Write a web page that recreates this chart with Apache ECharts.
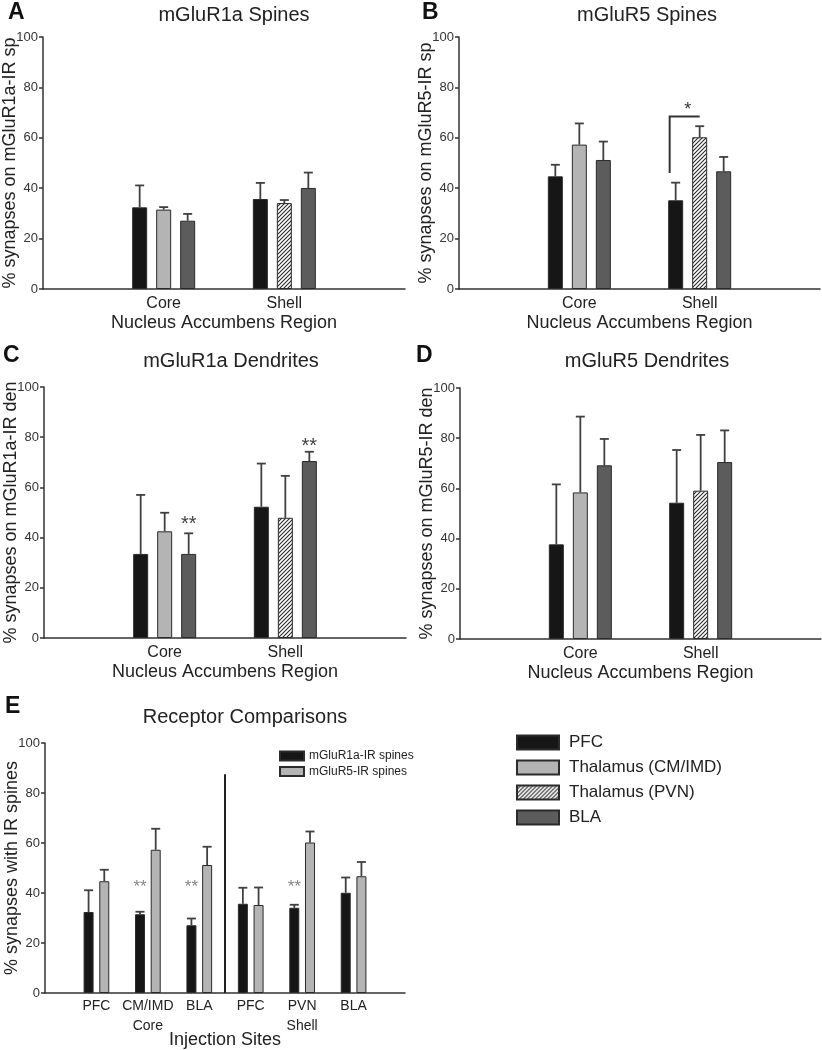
<!DOCTYPE html>
<html><head><meta charset="utf-8">
<script src="https://cdn.jsdelivr.net/npm/echarts@6/dist/echarts.min.js"></script>
<style>html,body{margin:0;padding:0;background:#fff}#c{width:822px;height:1050px}</style>
</head><body><div id="c"></div>
<script>
// ---------- DATA ----------
const regionCats = ['', 'Core', 'Shell', ''];
const groupNames = ['PFC', 'Thalamus (CM/IMD)', 'Thalamus (PVN)', 'BLA'];
// values per region [Core, Shell]; "Thal" = CM/IMD in Core, PVN in Shell
// A: mGluR1a Spines
const aPFC = [32.4, 35.7], aPFCErr = [8.7, 6.4];
const aThal = [31.5, 34.1], aThalErr = [1.0, 1.2];
const aBLA = [27.1, 40.1], aBLAErr = [2.7, 6.1];
// B: mGluR5 Spines
const bPFC = [44.7, 35.2], bPFCErr = [4.6, 7.0];
const bThal = [57.3, 60.2], bThalErr = [8.4, 4.4];
const bBLA = [51.2, 46.7], bBLAErr = [7.3, 5.7];
// C: mGluR1a Dendrites
const cPFC = [33.5, 52.3], cPFCErr = [23.5, 17.2];
const cThal = [42.5, 47.9], cThalErr = [7.4, 16.7];
const cBLA = [33.5, 70.5], cBLAErr = [8.2, 3.7];
// D: mGluR5 Dendrites
const dPFC = [37.7, 54.3], dPFCErr = [23.9, 21.0];
const dThal = [58.4, 59.1], dThalErr = [30.2, 22.2];
const dBLA = [69.2, 70.5], dBLAErr = [10.5, 12.6];
// E: Receptor comparisons
const siteCats = ['', 'PFC', 'CM/IMD\nCore', 'BLA', 'PFC', 'PVN\nShell', 'BLA', ''];
const compareNames = ['mGluR1a-IR spines', 'mGluR5-IR spines'];
const eR1a = [32.4, 31.5, 27.1, 35.7, 34.1, 40.1];
const eR1aErr = [8.7, 1.0, 2.7, 6.4, 1.2, 6.1];
const eR5 = [44.7, 57.3, 51.2, 35.2, 60.2, 46.7];
const eR5Err = [4.6, 8.4, 7.3, 7.0, 4.4, 5.7];
const eDividerTop = 87.5;
// significance marks: [category index, bar slot, y value, text]
const sigB = [[2, 0.5, 72.4, '*']];
const bracketB = [46, 68.5]; // low end over PFC (Shell), bracket height
const sigC = [[1, 2, 47, '**'], [2, 2, 78, '**']];
const sigE = [[2, 0, 43.7, '**'], [3, 0, 43.7, '**'], [5, 0, 43.7, '**']];
const yTickInterval = 20;

// ---------- STYLE ----------
const FONT = '"Liberation Sans", Arial, Helvetica, sans-serif';
const COL = { PFC: '#161616', CM: '#b4b4b4', BLA: '#5c5c5c', border: '#2b2b2b', err: '#404040', text: '#222' };

function hatchCanvas() {
  const s = 4, cv = document.createElement('canvas');
  cv.width = s; cv.height = s;
  const g = cv.getContext('2d');
  g.fillStyle = '#ffffff'; g.fillRect(0, 0, s, s);
  g.strokeStyle = '#2a2a2a'; g.lineWidth = 1.1;
  g.beginPath();
  g.moveTo(0, s); g.lineTo(s, 0);
  g.moveTo(-1, 1); g.lineTo(1, -1);
  g.moveTo(s - 1, s + 1); g.lineTo(s + 1, s - 1);
  g.stroke();
  return cv;
}
const HATCH = { image: hatchCanvas(), repeat: 'repeat' };

const gridsPx = [
  { left: 43, top: 37, width: 362, height: 252 },
  { left: 459, top: 37, width: 361, height: 252 },
  { left: 44, top: 387, width: 362, height: 251 },
  { left: 460, top: 388, width: 361, height: 251 },
  { left: 45, top: 743, width: 360, height: 250 }
].map(g => Object.assign({ containLabel: false, outerBoundsMode: 'none' }, g));
const yNames = ['% synapses on mGluR1a-IR sp', '% synapses on mGluR5-IR sp',
  '% synapses on mGluR1a-IR den', '% synapses on mGluR5-IR den', '% synapses with IR spines'];

const option = {
  animation: false,
  textStyle: { fontFamily: FONT },
  title: [],
  grid: gridsPx,
  xAxis: [],
  yAxis: [],
  legend: [
    {
      data: groupNames, orient: 'vertical', left: 516, top: 734, padding: 0,
      itemWidth: 42, itemHeight: 14, itemGap: 8, icon: 'rect',
      textStyle: { fontSize: 17, color: COL.text, fontFamily: FONT, padding: [0, 0, 0, 5] },
      selectedMode: false
    },
    {
      data: compareNames, orient: 'vertical', left: 279, top: 750, padding: 0,
      itemWidth: 24, itemHeight: 9, itemGap: 3.5, icon: 'rect',
      textStyle: { fontSize: 12, color: COL.text, fontFamily: FONT },
      selectedMode: false
    }
  ],
  series: []
};

// titles
const titles = [
  ['mGluR1a Spines', 234, 5], ['mGluR5 Spines', 647, 5],
  ['mGluR1a Dendrites', 231, 351], ['mGluR5 Dendrites', 647, 351],
  ['Receptor Comparisons', 245, 707]
];
titles.forEach(t => option.title.push({ text: t[0], left: t[1], top: t[2], padding: 0, textAlign: 'center',
  textStyle: { fontSize: 20, fontWeight: 'normal', color: COL.text, fontFamily: FONT } }));
const letters = [['A', 8, 1], ['B', 422, 1], ['C', 3, 344], ['D', 416, 344], ['E', 5, 695]];
letters.forEach(t => option.title.push({ text: t[0], left: t[1], top: t[2], padding: 0,
  textStyle: { fontSize: 23, fontWeight: 'bold', color: '#111', fontFamily: FONT } }));

function yAxisFor(i) {
  return {
    type: 'value', gridIndex: i, min: 0, max: 100, interval: yTickInterval,
    name: yNames[i], nameLocation: 'middle', nameGap: 24, nameMoveOverlap: false,
    nameTextStyle: { fontSize: 18, color: COL.text, fontFamily: FONT },
    axisLine: { show: true, lineStyle: { color: '#333', width: 1.5 } },
    axisTick: { show: true, length: 4, lineStyle: { color: '#333', width: 1.5 } },
    axisLabel: { fontSize: 13, color: '#333', margin: 5, fontFamily: FONT },
    splitLine: { show: false }
  };
}
for (let i = 0; i < 4; i++) {
  option.xAxis.push({
    type: 'category', gridIndex: i, data: regionCats, boundaryGap: false,
    axisLine: { lineStyle: { color: '#333', width: 1.5 } }, axisTick: { show: false },
    axisLabel: { fontSize: 16, color: COL.text, margin: 7, interval: 0, fontFamily: FONT },
    name: 'Nucleus Accumbens Region', nameLocation: 'middle', nameGap: 25, nameMoveOverlap: false,
    nameTextStyle: { fontSize: 18, color: COL.text, fontFamily: FONT }
  });
  option.yAxis.push(yAxisFor(i));
}
option.xAxis.push({
  type: 'category', gridIndex: 4, data: siteCats, boundaryGap: false,
  axisLine: { lineStyle: { color: '#333', width: 1.5 } }, axisTick: { show: false },
  axisLabel: { fontSize: 14, color: COL.text, margin: 3, interval: 0, lineHeight: 20, fontFamily: FONT },
  name: 'Injection Sites', nameLocation: 'middle', nameGap: 38, nameMoveOverlap: false,
  nameTextStyle: { fontSize: 18, color: COL.text, fontFamily: FONT }
});
option.yAxis.push(yAxisFor(4));

const pad = arr => ['-'].concat(arr, ['-']);
const barBorder = { borderColor: COL.border, borderWidth: 1 };

function errorSeries(i, rows, slotPx, nSlots, cap) {
  return {
    type: 'custom', xAxisIndex: i, yAxisIndex: i, z: 1, silent: true,
    encode: { x: 0, y: 2 },
    data: rows,
    renderItem: (params, api) => {
      const c = api.value(0), s = api.value(1);
      const base = api.coord([c, api.value(2)]);
      const top = api.coord([c, api.value(3)]);
      const x = base[0] + (s - (nSlots - 1) / 2) * slotPx;
      const st = { stroke: COL.err, lineWidth: 1.8 };
      return { type: 'group', children: [
        { type: 'line', shape: { x1: x, y1: base[1], x2: x, y2: top[1] }, style: st },
        { type: 'line', shape: { x1: x - cap, y1: top[1], x2: x + cap, y2: top[1] }, style: st }
      ] };
    }
  };
}

function textSeries(i, rows, slotPx, nSlots, fontSize, color) {
  return {
    type: 'custom', xAxisIndex: i, yAxisIndex: i, z: 5, silent: true,
    encode: { x: 0, y: 2 },
    data: rows,
    renderItem: (params, api) => {
      const p = api.coord([api.value(0), api.value(2)]);
      const x = p[0] + (api.value(1) - (nSlots - 1) / 2) * slotPx;
      return { type: 'text', x: x, y: p[1] + fontSize * 0.22,
        style: { text: rows[params.dataIndex][3], fill: color, fontSize: fontSize, fontFamily: FONT,
          align: 'center', verticalAlign: 'middle' } };
    }
  };
}

const panels = [
  [aPFC, aPFCErr, aThal, aThalErr, aBLA, aBLAErr],
  [bPFC, bPFCErr, bThal, bThalErr, bBLA, bBLAErr],
  [cPFC, cPFCErr, cThal, cThalErr, cBLA, cBLAErr],
  [dPFC, dPFCErr, dThal, dThalErr, dBLA, dBLAErr]
];
const SLOT = 24;
panels.forEach((p, i) => {
  const [pfc, pfcE, thal, thalE, bla, blaE] = p;
  const common = { type: 'bar', xAxisIndex: i, yAxisIndex: i, barWidth: 15, barGap: '60%', z: 2 };
  option.series.push(Object.assign({}, common, { name: groupNames[0], data: pad(pfc),
    itemStyle: Object.assign({ color: COL.PFC }, barBorder) }));
  option.series.push(Object.assign({}, common, { name: groupNames[1], stack: 'thal' + i, data: pad([thal[0], '-']),
    itemStyle: Object.assign({ color: COL.CM }, barBorder) }));
  option.series.push(Object.assign({}, common, { name: groupNames[2], stack: 'thal' + i, data: pad(['-', thal[1]]),
    itemStyle: Object.assign({ color: HATCH }, barBorder) }));
  option.series.push(Object.assign({}, common, { name: groupNames[3], data: pad(bla),
    itemStyle: Object.assign({ color: COL.BLA }, barBorder) }));
  const rows = [];
  [[pfc, pfcE], [thal, thalE], [bla, blaE]].forEach((pair, s) => {
    for (let r = 0; r < 2; r++) rows.push([r + 1, s, pair[0][r], pair[0][r] + pair[1][r]]);
  });
  option.series.push(errorSeries(i, rows, SLOT, 3, 4.5));
});

// Panel B bracket + star
option.series.push({
  type: 'custom', xAxisIndex: 1, yAxisIndex: 1, z: 5, silent: true,
  encode: { x: 0, y: 1 },
  data: [[2, bracketB[0], bracketB[1]]],
  renderItem: (params, api) => {
    const lo = api.coord([api.value(0), api.value(1)]);
    const hi = api.coord([api.value(0), api.value(2)]);
    const xl = lo[0] - SLOT - 6, xr = lo[0];
    return { type: 'polyline', shape: { points: [[xl, lo[1]], [xl, hi[1]], [xr, hi[1]]] },
      style: { stroke: '#333', lineWidth: 2, fill: null } };
  }
});
option.series.push(textSeries(1, sigB, SLOT, 3, 18, '#333'));
option.series.push(textSeries(2, sigC, SLOT, 3, 20, '#444'));

// Panel E
const eCommon = { type: 'bar', xAxisIndex: 4, yAxisIndex: 4, barWidth: 10, barGap: '57%', z: 2 };
option.series.push(Object.assign({}, eCommon, { name: compareNames[0], data: pad(eR1a),
  itemStyle: Object.assign({ color: COL.PFC }, barBorder) }));
option.series.push(Object.assign({}, eCommon, { name: compareNames[1], data: pad(eR5),
  itemStyle: Object.assign({ color: COL.CM }, barBorder) }));
const eRows = [];
for (let k = 0; k < eR1a.length; k++) {
  eRows.push([k + 1, 0, eR1a[k], eR1a[k] + eR1aErr[k]]);
  eRows.push([k + 1, 1, eR5[k], eR5[k] + eR5Err[k]]);
}
option.series.push(errorSeries(4, eRows, 15.7, 2, 4.5));
option.series.push(textSeries(4, sigE, 15.7, 2, 17, '#888'));
option.series.push({
  type: 'custom', xAxisIndex: 4, yAxisIndex: 4, z: 5, silent: true,
  encode: { x: 0, y: 1 },
  data: [[3, 0, eDividerTop]],
  renderItem: (params, api) => {
    const a = api.coord([api.value(0), api.value(1)]);
    const b = api.coord([api.value(0) + 1, api.value(2)]);
    const x = (a[0] + b[0]) / 2;
    return { type: 'line', shape: { x1: x, y1: a[1], x2: x, y2: b[1] }, style: { stroke: '#222', lineWidth: 2 } };
  }
});

const chart = echarts.init(document.getElementById('c'), null, { renderer: 'canvas' });
chart.setOption(option);
</script></body></html>
